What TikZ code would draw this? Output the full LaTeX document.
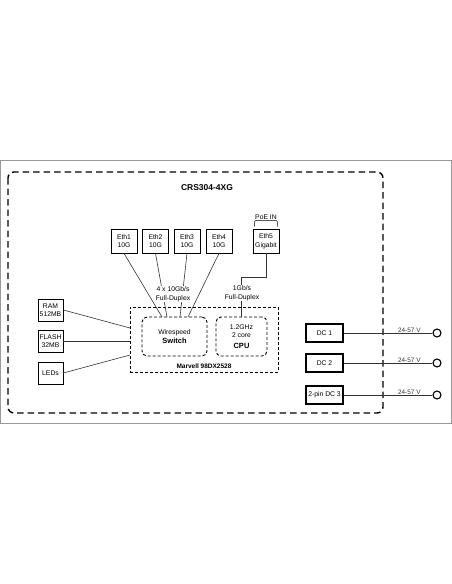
\documentclass[tikz,border=0pt]{standalone}
\usepackage{fontspec}
\setmainfont{Liberation Sans}
\usetikzlibrary{positioning}

\begin{document}
\begin{tikzpicture}[x=1pt,y=-1pt,node distance=31.5pt,
    font=\fontsize{6.8}{8.5}\selectfont,
    port/.style={draw,line width=0.7pt,minimum width=26pt,minimum height=24pt,inner sep=1pt,align=center},
    mem/.style={draw,line width=0.7pt,minimum width=25pt,minimum height=22pt,inner sep=1pt,align=center},
    dcbox/.style={draw,line width=1.1pt,minimum width=37pt,minimum height=18pt,inner sep=1pt},
    term/.style={draw,circle,line width=1.1pt,minimum size=8pt,inner sep=0pt},
    chip/.style={draw,line width=0.9pt,dash pattern=on 3pt off 2pt,align=center},
    wire/.style={line width=0.6pt,black!80},
    lbl/.style={fill=white,inner sep=1pt,align=center},
    volt/.style={pos=0.74,above,inner sep=0.6pt,font=\fontsize{6.4}{7}\selectfont},
    bold/.style={font=\fontsize{7.5}{9}\selectfont\bfseries}]
 \useasboundingbox (0,0) rectangle (452,584);
 \draw[black!40,line width=0.6pt] (0.5,160) rectangle (451.5,423);
 \draw[line width=1.4pt,dash pattern=on 6.5pt off 4pt,rounded corners=6pt] (8,172) rectangle (383,413);
 \node[font=\fontsize{8.5}{10}\selectfont\bfseries] (title) at (207,188) {CRS304-4XG};
 % ports
 \node[port] (eth1) at (124,241) {Eth1\\10G};
 \node[port] (eth2) [right of=eth1] {Eth2\\10G};
 \node[port] (eth3) [right of=eth2] {Eth3\\10G};
 \node[port] (eth4) [right of=eth3,xshift=0.5pt] {Eth4\\10G};
 \node[port] (eth5) [right of=eth4,xshift=15.5pt] {Eth5\\Gigabit};
 \node (poe) at (266,217) {PoE IN};
 \draw[line width=0.5pt,rounded corners=1pt] ([xshift=2pt,yshift=2pt]eth5.north west) -- ++(0,-6) -| ([xshift=-2pt,yshift=2pt]eth5.north east);
 % chip
 \node[chip,minimum width=148pt,minimum height=65pt] (marvell) at (204,339.5) {};
 \node[chip,rounded corners=5pt,minimum width=65pt,minimum height=39pt] (switch) at (174.5,336.5) {Wirespeed\\[1pt]\textbf{\fontsize{7.5}{9}\selectfont Switch}};
 \node[chip,rounded corners=5pt,minimum width=51pt,minimum height=39pt] (cpu) at (241.5,336.5) {1.2GHz\\2 core\\[2pt]\textbf{\fontsize{7.5}{9}\selectfont CPU}};
 \node[font=\fontsize{6.5}{8}\selectfont\bfseries] (marvelltxt) at (204,366) {Marvell 98DX2528};
 \coordinate (s1) at (162,317);
 \coordinate (s2) at (167,317);
 \coordinate (s3) at (180,317);
 \coordinate (s4) at (188,317);
 \draw[wire] (eth1.south) -- (s1);
 \draw[wire] (eth2.south) -- (s2);
 \draw[wire] (eth3.south) -- (s3);
 \draw[wire] (eth4.south) -- (s4);
 \draw[wire] (eth5.south) -- ++(0,24) -| (cpu.north);
 \node[lbl] (tenG) at (173,294) {4 x 10Gb/s\\Full-Duplex};
 \node[lbl] (oneG) at (242,293) {1Gb/s\\Full-Duplex};
 % memory
 \node[mem] (ram) at (50.5,310) {RAM\\512MB};
 \node[mem] (flash) at (50.5,341) {FLASH\\32MB};
 \node[mem] (leds) at (50.5,373) {LEDs};
 \coordinate (m1) at (130,328);
 \coordinate (m2) at (130,341);
 \coordinate (m3) at (130,355);
 \draw[wire] (ram.east) -- (m1);
 \draw[wire] (flash.east) -- (m2);
 \draw[wire] (leds.east) -- (m3);
 % power
 \node[dcbox] (dc1) at (324.5,333) {DC 1};
 \node[dcbox] (dc2) at (324.5,363) {DC 2};
 \node[dcbox] (dc3) at (324.5,395) {2-pin DC 3};
 \node[term] (t1) at (437,333) {};
 \node[term] (t2) at (437,363) {};
 \node[term] (t3) at (437,395) {};
 \draw[wire] (dc1.east) -- node[volt] {24-57 V} (t1.west);
 \draw[wire] (dc2.east) -- node[volt] {24-57 V} (t2.west);
 \draw[wire] (dc3.east) -- node[volt] {24-57 V} (t3.west);
\end{tikzpicture}
\end{document}
